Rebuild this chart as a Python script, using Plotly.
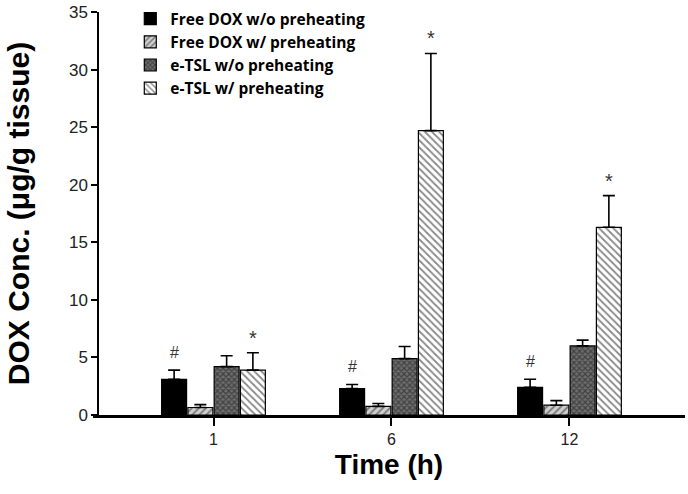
import plotly.graph_objects as go

times = ["1", "6", "12"]
series_names = ["Free DOX w/o preheating", "Free DOX w/ preheating",
                "e-TSL w/o preheating", "e-TSL w/ preheating"]
free_dox_wo = [3.1, 2.3, 2.4]
free_dox_wo_err = [0.8, 0.35, 0.7]
free_dox_w = [0.65, 0.75, 0.85]
free_dox_w_err = [0.25, 0.25, 0.4]
etsl_wo = [4.2, 4.9, 6.0]
etsl_wo_err = [0.95, 1.05, 0.5]
etsl_w = [3.9, 24.7, 16.3]
etsl_w_err = [1.5, 6.7, 2.75]
hash_marks = ["#", "#", "#"]
star_marks = ["*", "*", "*"]
y_ticks = [0, 5, 10, 15, 20, 25, 30, 35]

values = [free_dox_wo, free_dox_w, etsl_wo, etsl_w]
errors = [free_dox_wo_err, free_dox_w_err, etsl_wo_err, etsl_w_err]
styles = [
    dict(color="black", pattern=dict(shape="")),
    dict(color="#d0d0d0", pattern=dict(shape="/", fgcolor="#2a2a2a", bgcolor="#d0d0d0", size=5, solidity=0.4)),
    dict(color="#6e6e6e", pattern=dict(shape="x", fgcolor="#111111", bgcolor="#6e6e6e", size=4, solidity=0.5)),
    dict(color="white", pattern=dict(shape="\\", fgcolor="#111111", bgcolor="white", size=5, solidity=0.35)),
]

fig = go.Figure()
for i, (name, v, e, st) in enumerate(zip(series_names, values, errors, styles)):
    fig.add_trace(go.Bar(
        x=times, y=v, name=name, legendgroup=f"g{i}",
        marker=dict(color=st["color"], pattern=st["pattern"], line=dict(color="black", width=1.2)),
        error_y=dict(type="data", array=e, arrayminus=[0] * len(e), symmetric=False,
                     color="black", thickness=1.6, width=6),
    ))

ngroups = len(series_names)
group_w = 0.59
bar_w = group_w / ngroups
annotations = []
for j in range(len(times)):
    off0 = -group_w / 2 + bar_w * 0.5
    annotations.append(dict(x=j + off0, y=free_dox_wo[j] + free_dox_wo_err[j], xref="x", yref="y",
                            text=hash_marks[j], showarrow=False, yshift=18, yanchor="middle",
                            font=dict(family="Liberation Sans, Arial", size=16, color="#333")))
    off3 = -group_w / 2 + bar_w * 3.5
    annotations.append(dict(x=j + off3, y=etsl_w[j] + etsl_w_err[j], xref="x", yref="y",
                            text=star_marks[j], showarrow=False, yshift=15, yanchor="middle",
                            font=dict(family="Liberation Sans, Arial", size=20, color="#333")))

fig.update_layout(
    width=688, height=494,
    margin=dict(l=93, r=3, t=11, b=79),
    paper_bgcolor="white", plot_bgcolor="white",
    barmode="group", bargap=0.41, bargroupgap=0.05,
    showlegend=True,
    legend=dict(x=0.063, y=1.022, xanchor="left", yanchor="top",
                font=dict(family="Open Sans, Arial", size=15.5, color="black", weight="bold"),
                bgcolor="rgba(0,0,0,0)", tracegroupgap=0, itemwidth=30),
    annotations=annotations,
    xaxis=dict(
        type="category", range=[-0.677, 2.649], automargin=False,
        showline=True, linecolor="black", linewidth=3,
        ticks="outside", ticklen=8, tickwidth=1.5, tickcolor="black",
        tickfont=dict(family="Liberation Sans, Arial", size=16, color="#222"),
        title=dict(text="<b>Time (h)</b>", font=dict(family="Liberation Sans, Arial", size=28, color="black"), standoff=8),
        showgrid=False, zeroline=False,
    ),
    yaxis=dict(
        range=[0, 35], tickvals=y_ticks, automargin=False,
        anchor="free", position=5 / 592,
        showline=True, linecolor="black", linewidth=1.5,
        ticks="outside", ticklen=6, tickwidth=1.5, tickcolor="black",
        tickfont=dict(family="Liberation Sans, Arial", size=17, color="#222"),
        ticklabeloverflow="allow",
        title=dict(text="<b>DOX Conc. (μg/g tissue)</b>", font=dict(family="Liberation Sans, Arial", size=30, color="black"), standoff=29),
        showgrid=False, zeroline=False,
    ),
)

fig.write_html("out.html", config={"displayModeBar": False},
               post_script="document.body.style.margin='0';document.body.style.padding='0';")
